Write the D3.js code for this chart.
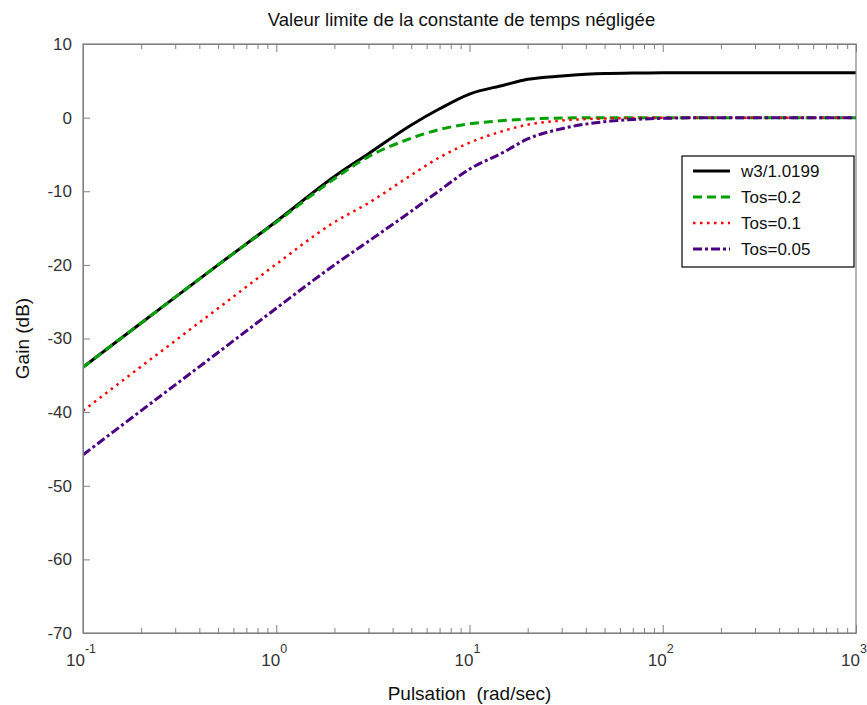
<!DOCTYPE html>
<html><head><meta charset="utf-8">
<script src="https://cdn.jsdelivr.net/npm/d3@7"></script>
<style>body{margin:0;background:#fff;}svg{display:block;font-family:"Liberation Sans",Arial,sans-serif;}</style>
</head><body>
<svg id="c" width="867" height="705"></svg>
<script>
const title = "Valeur limite de la constante de temps négligée";
const xLabel = "Pulsation  (rad/sec)";
const yLabel = "Gain (dB)";
const freqs = [0.1, 0.2, 0.5, 1, 2, 3, 5, 7, 10, 15, 20, 30, 50, 70, 100, 200, 1000];
const gainW3 = [-33.9, -27.9, -20.0, -14.1, -8.0, -4.9, -1.0, 1.2, 3.2, 4.4, 5.2, 5.65, 6.0, 6.05, 6.1, 6.1, 6.1];
const gainTos02 = [-33.9, -27.9, -20.0, -14.2, -8.3, -5.3, -2.8, -1.6, -0.85, -0.4, -0.2, -0.05, 0, 0, 0, 0, 0];
const gainTos01 = [-39.8, -33.8, -25.9, -19.9, -14.2, -11.6, -7.8, -5.4, -3.4, -1.8, -0.95, -0.4, -0.12, -0.05, 0, 0, 0];
const gainTos005 = [-45.8, -39.8, -31.9, -25.9, -20.0, -16.8, -12.7, -9.9, -7.0, -4.7, -2.9, -1.5, -0.55, -0.25, -0.1, 0, 0];
const seriesNames = ["w3/1.0199", "Tos=0.2", "Tos=0.1", "Tos=0.05"];
const yTicks = [10, 0, -10, -20, -30, -40, -50, -60, -70];
const xTickExps = [-1, 0, 1, 2, 3];

const series = [
  {name: seriesNames[0], vals: gainW3, color: "#000000", dash: null, width: 3},
  {name: seriesNames[1], vals: gainTos02, color: "#00a000", dash: "9,5", width: 3},
  {name: seriesNames[2], vals: gainTos01, color: "#ff0000", dash: "2.5,4.5", width: 2.5},
  {name: seriesNames[3], vals: gainTos005, color: "#4b0082", dash: "9,3,3,3", width: 3}
];

const svg = d3.select("#c");
const L = 83, R = 856, T = 44, B = 633;
const x = d3.scaleLog().domain([0.1, 1000]).range([L, R]);
const y = d3.scaleLinear().domain([-70, 10]).range([B, T]);

svg.append("rect").attr("x", L).attr("y", T).attr("width", R - L).attr("height", B - T).attr("fill", "#fff");

// Curves
svg.append("clipPath").attr("id", "pc").append("rect").attr("x", L).attr("y", T).attr("width", R - L).attr("height", B - T);
const line = d3.line().x(d => x(d[0])).y(d => y(d[1])).curve(d3.curveMonotoneX);
const g = svg.append("g").attr("clip-path", "url(#pc)");
series.forEach(s => {
  g.append("path").datum(freqs.map((f, i) => [f, s.vals[i]]))
    .attr("d", line).attr("fill", "none").attr("stroke", s.color)
    .attr("stroke-width", s.width).attr("stroke-dasharray", s.dash);
});

// Frame
const axColor = "#808080";
svg.append("rect").attr("x", L).attr("y", T).attr("width", R - L).attr("height", B - T)
  .attr("fill", "none").attr("stroke", axColor).attr("stroke-width", 1.2);

// Y axis
const yAxis = d3.axisLeft(y).tickValues(yTicks).tickSize(-7).tickPadding(11).tickFormat(d => String(d));
const ya = svg.append("g").attr("transform", `translate(${L},0)`).call(yAxis);
ya.select(".domain").attr("stroke", axColor);
ya.selectAll(".tick line").attr("stroke", axColor);
ya.selectAll(".tick text").attr("font-size", 17).attr("fill", "#333").attr("font-family", "Liberation Sans, Arial, sans-serif");

// X axes (bottom and top) with minor ticks
const allTicks = [];
for (let e = -1; e < 3; e++) for (let k = 1; k < 10; k++) allTicks.push(k * Math.pow(10, e));
allTicks.push(1000);
const isMajor = v => Math.abs(Math.log10(v) - Math.round(Math.log10(v))) < 1e-9;
const xb = d3.axisBottom(x).tickValues(allTicks).tickSizeInner(-5).tickSizeOuter(0).tickFormat("");
const xt = d3.axisTop(x).tickValues(allTicks).tickSizeInner(-5).tickSizeOuter(0).tickFormat("");
const gb = svg.append("g").attr("transform", `translate(0,${B})`).call(xb);
const gt = svg.append("g").attr("transform", `translate(0,${T})`).call(xt);
[gb, gt].forEach((ga, idx) => {
  ga.select(".domain").attr("stroke", axColor);
  ga.selectAll(".tick line").attr("stroke", axColor)
    .attr("y2", d => (isMajor(d) ? 8 : 5) * (idx === 0 ? -1 : 1));
});

// X tick labels with exponents
xTickExps.forEach(e => {
  const t = svg.append("text").attr("x", x(Math.pow(10, e)) - 2).attr("y", 666)
    .attr("text-anchor", "middle").attr("font-size", 17).attr("fill", "#333");
  t.append("tspan").text("10");
  t.append("tspan").attr("dy", -13).attr("font-size", 12.5).text(String(e));
});

// Title & labels
svg.append("text").attr("x", (L + R) / 2 - 8).attr("y", 26).attr("text-anchor", "middle")
  .attr("font-size", 18.5).attr("fill", "#111").text(title);
svg.append("text").attr("x", (L + R) / 2).attr("y", 700).attr("text-anchor", "middle")
  .attr("font-size", 19).attr("fill", "#111").style("white-space", "pre").text(xLabel);
svg.append("text").attr("transform", `translate(29,${(T + B) / 2}) rotate(-90)`).attr("text-anchor", "middle")
  .attr("font-size", 19).attr("fill", "#111").text(yLabel);

// Legend
const lg = svg.append("g");
lg.append("rect").attr("x", 682).attr("y", 156).attr("width", 172).attr("height", 111)
  .attr("fill", "#fff").attr("stroke", "#000").attr("stroke-width", 1.2);
series.forEach((s, i) => {
  const yy = 171 + i * 26;
  lg.append("line").attr("x1", 693).attr("x2", 730).attr("y1", yy).attr("y2", yy)
    .attr("stroke", s.color).attr("stroke-width", s.width).attr("stroke-dasharray", s.dash);
  lg.append("text").attr("x", 741).attr("y", yy + 6).attr("font-size", 17).attr("fill", "#111").text(s.name);
});
</script>
</body></html>
